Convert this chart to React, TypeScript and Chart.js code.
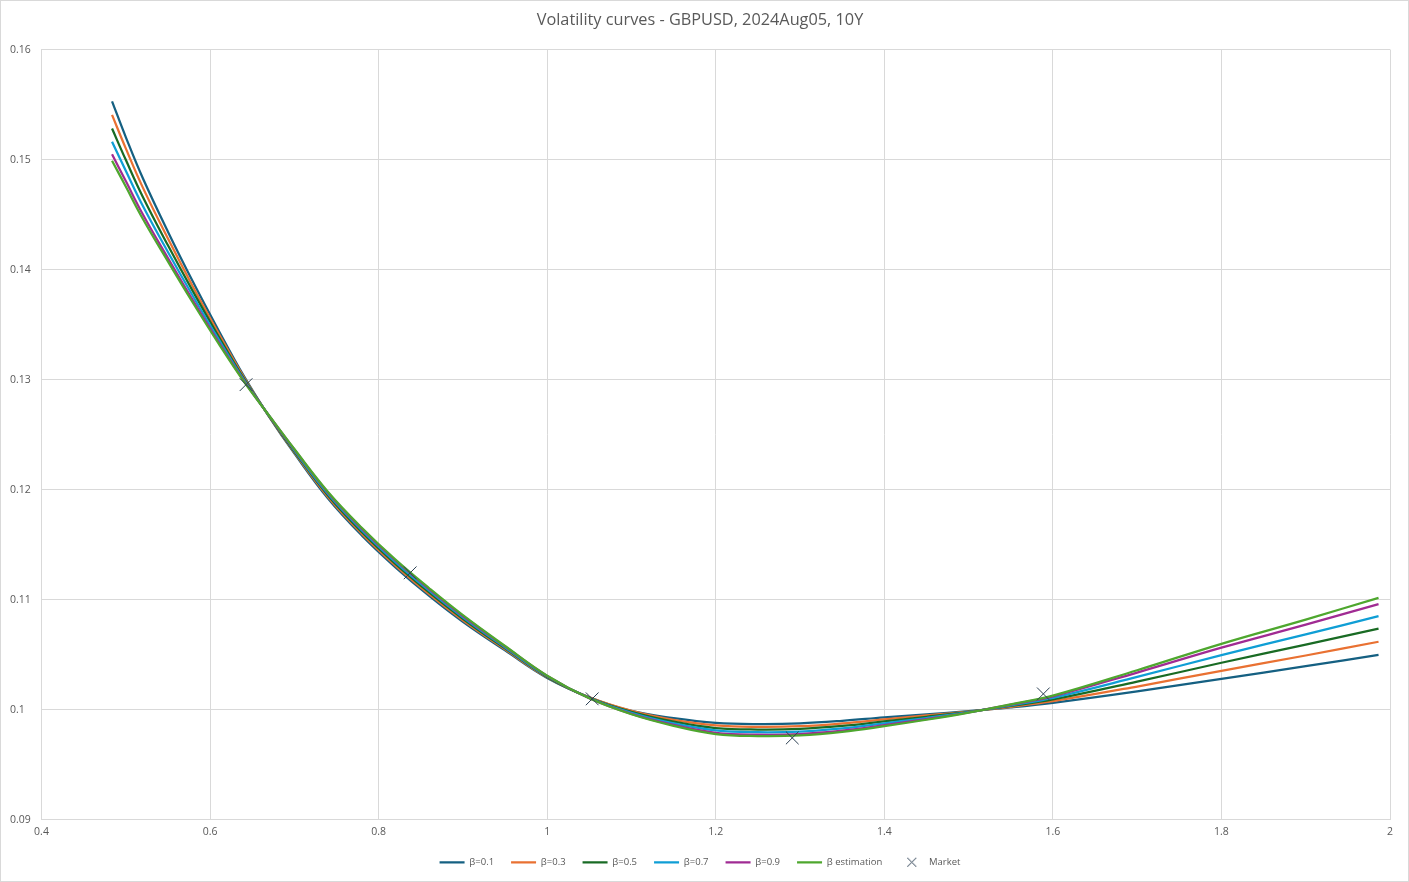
import React, { useEffect, useRef } from 'react';
import { Chart, registerables } from 'chart.js';

Chart.register(...registerables);

// ---- data ----
const strikes = [0.4837, 0.5, 0.52, 0.55, 0.58, 0.61, 0.64, 0.67, 0.7, 0.74, 0.78, 0.82, 0.86, 0.9, 0.95, 1.0, 1.05, 1.1, 1.15, 1.2, 1.25, 1.3, 1.35, 1.4, 1.45, 1.5, 1.55, 1.6, 1.7, 1.8, 1.9, 1.9864];

const beta01 = [0.1553, 0.15205, 0.14835, 0.14345, 0.13885, 0.1345, 0.13035, 0.12665, 0.1233, 0.1192, 0.11585, 0.11295, 0.11035, 0.108, 0.1054, 0.1029, 0.10115, 0.0999, 0.09925, 0.09882, 0.09871, 0.09877, 0.099, 0.09932, 0.0996, 0.09988, 0.10022, 0.10064, 0.10168, 0.10282, 0.10397, 0.105];
const beta03 = [0.15406, 0.15102, 0.1475, 0.14283, 0.13841, 0.13422, 0.13024, 0.12667, 0.12339, 0.11934, 0.11601, 0.11311, 0.11051, 0.10814, 0.10549, 0.10295, 0.10113, 0.09991, 0.09909, 0.09859, 0.09846, 0.09852, 0.09877, 0.09914, 0.09949, 0.09985, 0.10028, 0.10079, 0.10212, 0.10355, 0.10494, 0.10619];
const beta05 = [0.15282, 0.14998, 0.14665, 0.14221, 0.13798, 0.13395, 0.13012, 0.1267, 0.12348, 0.11948, 0.11617, 0.11327, 0.11067, 0.10828, 0.10558, 0.10299, 0.1011, 0.09982, 0.09893, 0.09835, 0.09821, 0.09827, 0.09854, 0.09895, 0.09937, 0.09982, 0.10035, 0.10094, 0.10256, 0.10428, 0.10592, 0.10738];
const beta07 = [0.15163, 0.14899, 0.14583, 0.14161, 0.13756, 0.13368, 0.13001, 0.12672, 0.12357, 0.11961, 0.11633, 0.11343, 0.11083, 0.10841, 0.10567, 0.10304, 0.10108, 0.09973, 0.09877, 0.09813, 0.09797, 0.09803, 0.09832, 0.09878, 0.09926, 0.09979, 0.10041, 0.10109, 0.10299, 0.10498, 0.10685, 0.10852];
const beta09 = [0.15049, 0.14805, 0.14506, 0.14105, 0.13716, 0.13343, 0.12991, 0.12674, 0.12366, 0.11973, 0.11647, 0.11357, 0.11097, 0.10853, 0.10576, 0.10308, 0.10106, 0.09964, 0.09863, 0.09791, 0.09774, 0.0978, 0.09811, 0.09861, 0.09916, 0.09976, 0.10047, 0.10123, 0.10339, 0.10565, 0.10774, 0.10961];
const betaEst = [0.1499, 0.14755, 0.14465, 0.14075, 0.13695, 0.1333, 0.12985, 0.12675, 0.1237, 0.1198, 0.11655, 0.11365, 0.11105, 0.1086, 0.1058, 0.1031, 0.10105, 0.0996, 0.09855, 0.0978, 0.09762, 0.09768, 0.098, 0.09852, 0.0991, 0.09975, 0.1005, 0.1013, 0.1036, 0.106, 0.1082, 0.11018];

const marketStrikes = [0.6427, 0.8374, 1.0534, 1.2908, 1.5887];
const marketVols = [0.12955, 0.11245, 0.101, 0.09745, 0.10145];

const seriesLabels = ['β=0.1', 'β=0.3', 'β=0.5', 'β=0.7', 'β=0.9', 'β estimation'];
const seriesValues = [beta01, beta03, beta05, beta07, beta09, betaEst];
const seriesColors = ['#156082', '#E97132', '#196B24', '#0F9ED5', '#A02B93', '#4EA72E'];
const marketLabel = 'Market';
const marketColor = '#2B3F52';

const titleText = 'Volatility curves - GBPUSD, 2024Aug05, 10Y';
const xMin = 0.4, xMax = 2, xStep = 0.2;
const yMin = 0.09, yMax = 0.16, yStep = 0.01;

const FONT = "'Open Sans', 'Noto Sans', sans-serif";
const TEXT = '#595959';
const GRID = '#D9D9D9';

const frame = {
  id: 'frame',
  beforeDraw(chart: any) {
    const { ctx, width, height } = chart;
    ctx.save();
    ctx.fillStyle = '#ffffff';
    ctx.fillRect(0, 0, width, height);
    ctx.strokeStyle = GRID;
    ctx.lineWidth = 1;
    ctx.strokeRect(0.5, 0.5, width - 1, height - 1);
    ctx.restore();
  },
};

const fmt = (v: any) => String(+Number(v).toFixed(2));

function crossIcon(color: string) {
  const c = document.createElement('canvas');
  c.width = 11;
  c.height = 11;
  const g = c.getContext('2d')!;
  g.strokeStyle = color;
  g.lineWidth = 1;
  g.beginPath();
  g.moveTo(1, 1);
  g.lineTo(10, 10);
  g.moveTo(10, 1);
  g.lineTo(1, 10);
  g.stroke();
  return c;
}

export default function App() {
  const ref = useRef<HTMLCanvasElement | null>(null);
  useEffect(() => {
    if (!ref.current) return;
    const icon = crossIcon(marketColor);
    const datasets: any[] = seriesValues.map((vals, i) => ({
      label: seriesLabels[i],
      data: strikes.map((x, j) => ({ x, y: vals[j] })),
      showLine: true,
      borderColor: seriesColors[i],
      backgroundColor: seriesColors[i],
      borderWidth: 2.25,
      pointRadius: 0,
      pointHoverRadius: 0,
      tension: 0.4,
      order: seriesValues.length + 1 - i,
    }));
    datasets.push({
      label: marketLabel,
      data: marketStrikes.map((x, j) => ({ x, y: marketVols[j] })),
      showLine: false,
      pointStyle: 'crossRot',
      pointRadius: 9,
      pointBorderWidth: 1,
      borderColor: marketColor,
      backgroundColor: marketColor,
      order: 0,
    });

    const chart = new Chart(ref.current, {
      type: 'scatter',
      data: { datasets },
      plugins: [frame],
      options: {
        animation: false,
        responsive: false,
        layout: { padding: { left: 10, right: 19, top: 0, bottom: 5 } },
        plugins: {
          title: {
            display: true,
            text: titleText,
            color: TEXT,
            font: { family: FONT, size: 16.3, weight: 'normal' },
            padding: { top: 11, bottom: 19 },
          },
          legend: {
            position: 'bottom',
            labels: {
              usePointStyle: true,
              pointStyleWidth: 25,
              boxHeight: 9,
              padding: 17,
              color: TEXT,
              font: { family: FONT, size: 9.5 },
              generateLabels: (c: any) =>
                c.data.datasets.map((ds: any, i: number) => ({
                  text: ds.label,
                  fillStyle: ds.borderColor,
                  strokeStyle: ds.borderColor,
                  lineWidth: i < seriesLabels.length ? 2.25 : 1,
                  pointStyle: i < seriesLabels.length ? 'line' : icon,
                  hidden: false,
                  datasetIndex: i,
                  fontColor: TEXT,
                })),
            },
          },
          tooltip: { enabled: false },
        },
        scales: {
          x: {
            type: 'linear',
            min: xMin,
            max: xMax,
            ticks: { stepSize: xStep, color: TEXT, font: { family: FONT, size: 10.5 }, padding: 6, callback: fmt },
            grid: { color: GRID, drawTicks: false },
            border: { color: GRID },
            afterFit: (s: any) => { s.height = s.height - 4; },
          },
          y: {
            type: 'linear',
            min: yMin,
            max: yMax,
            ticks: { stepSize: yStep, color: TEXT, font: { family: FONT, size: 10.5 }, crossAlign: 'far', padding: 4, callback: fmt },
            grid: { color: GRID, drawTicks: false },
            border: { color: GRID },
            afterFit: (s: any) => { s.width = 31.5; },
          },
        },
      } as any,
    });
    return () => chart.destroy();
  }, []);

  return (
    <div style={{ position: 'fixed', left: 0, top: 0, width: 1409, height: 882, background: '#fff' }}>
      <canvas ref={ref} width={1409} height={882} style={{ display: 'block' }} />
    </div>
  );
}
